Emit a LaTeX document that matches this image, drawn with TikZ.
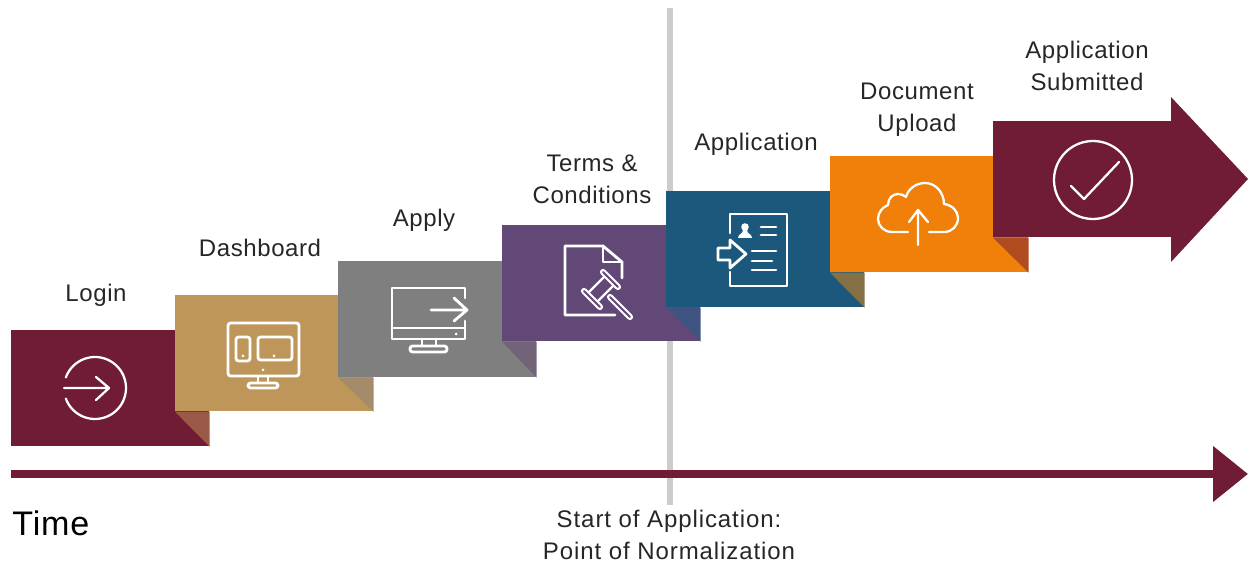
\documentclass[tikz,border=0pt]{standalone}
\usepackage{fontspec}
\setmainfont{Liberation Sans}[LetterSpace=2.5]
\usetikzlibrary{arrows.meta}
\definecolor{stepmaroon}{HTML}{701C35}
\definecolor{steptan}{HTML}{BF9659}
\definecolor{stepgray}{HTML}{7F7F7F}
\definecolor{steppurple}{HTML}{614876}
\definecolor{stepblue}{HTML}{1C587C}
\definecolor{steporange}{HTML}{F08009}
\definecolor{foldlogin}{HTML}{9A5A47}
\definecolor{folddash}{HTML}{A48B69}
\definecolor{foldapply}{HTML}{726379}
\definecolor{foldterms}{HTML}{3F5480}
\definecolor{foldappl}{HTML}{867046}
\definecolor{folddocu}{HTML}{AF4C1F}
\definecolor{inktext}{HTML}{262626}
\tikzset{
  stepbox/.style={minimum width=3.96cm,minimum height=2.32cm,inner sep=0pt,anchor=north west},
  steplabel/.style={text=inktext,align=center,font=\fontsize{13.66}{18.2}\selectfont},
  icon/.style={draw=white,line width=1.6pt,line cap=round,line join=round},
  thinicon/.style={icon,line width=1.3pt},
  iconfill/.style={fill=white,draw=none},
  gavel/.style={icon,line width=1.2pt,double=steppurple,double distance=1.1pt}
}
\begin{document}
\begin{tikzpicture}[x=0.02cm,y=-0.02cm]
\useasboundingbox (0,0) rectangle (1248,563);

\coordinate (normtop) at (670,8);
\coordinate (normend) at (670,505);
\draw[line width=3.4pt,draw=black!20] (normtop) -- (normend);

\node[stepbox,fill=stepmaroon] (login) at (11,330) {};
\node[stepbox,fill=steptan] (dash) at (175,295) {};
\fill[foldlogin] (dash.south west) -- (login.south east) -- (dash.south west -| login.south east) -- cycle;
\node[stepbox,fill=stepgray] (apply) at (338,261) {};
\fill[folddash] (apply.south west) -- (dash.south east) -- (apply.south west -| dash.south east) -- cycle;
\node[stepbox,fill=steppurple] (terms) at (502,225) {};
\fill[foldapply] (terms.south west) -- (apply.south east) -- (terms.south west -| apply.south east) -- cycle;
\node[stepbox,fill=stepblue] (appl) at (666,191) {};
\fill[foldterms] (appl.south west) -- (terms.south east) -- (appl.south west -| terms.south east) -- cycle;
\node[stepbox,fill=steporange] (docu) at (830,156) {};
\fill[foldappl] (docu.south west) -- (appl.south east) -- (docu.south west -| appl.south east) -- cycle;
\node[stepbox,fill=stepmaroon,minimum width=3.6cm] (subm) at (993,121) {};
\fill[folddocu] (subm.south west) -- (docu.south east) -- (subm.south west -| docu.south east) -- cycle;
\fill[stepmaroon] (1171,97) -- (1248,179) -- (1171,262) -- cycle;

\node[steplabel] (loginlabel) at (96,295) {Login};
\node[steplabel] (dashlabel) at (260,248) {Dashboard};
\node[steplabel] (applylabel) at (424,220) {Apply};
\node[steplabel] (termslabel) at (592,179) {Terms \&\\Conditions};
\node[steplabel] (appllabel) at (756,144) {Application};
\node[steplabel] (doculabel) at (917,110) {Document\\Upload};
\node[steplabel] (submlabel) at (1087,66) {Application\\Submitted};
\node[steplabel,font=\fontsize{13.66}{18.2}\selectfont\addfontfeature{LetterSpace=3.8}] (normlabel) at (669,535) {Start of Application:\\Point of Normalization};
\node[text=black,font=\fontsize{19.4}{22}\selectfont,anchor=west,inner sep=0pt] (timelabel) at (12,523) {Time};

\coordinate (timestart) at (11,474);
\coordinate (timeend) at (1248,474);
\draw[stepmaroon,line width=4.6pt,-{Triangle[length=19.9pt,width=30.7pt]}] (timestart) -- (timeend);

\draw[thinicon] (95,388) ++(160:31) arc (160:-160:31);
\draw[thinicon] (64,388) -- (109,388) (96,377) -- (109,388) -- (96,400);

\draw[icon,rounded corners=1.5pt] (228,323) rectangle (299,376);
\draw[icon,rounded corners=1.5pt] (236,337) rectangle (250,361);
\draw[icon,rounded corners=1.5pt] (258,337) rectangle (292,360);
\fill[iconfill] (243,356) circle (1.5) (274,356) circle (1.5) (263,370) circle (1.5);
\draw[icon] (258,376) -- (258,383) (268,376) -- (268,383);
\draw[icon,rounded corners=1.5pt] (248,383) rectangle (278,388);

\draw[icon] (465,298) -- (465,288) -- (392,288) -- (392,339) -- (465,339) -- (465,321);
\draw[icon] (392,328) -- (465,328);
\fill[iconfill] (456,334) circle (1.5);
\draw[icon] (422,339) -- (422,346) (436,339) -- (436,346);
\draw[icon,rounded corners=1.5pt] (410,346) rectangle (447,352);
\draw[icon] (431,310) -- (467,310) (454,298) -- (467,310) -- (454,321);

\draw[icon] (622,278) -- (622,262) -- (603,246) -- (565,246) -- (565,315) -- (615,315);
\draw[icon] (603,246) -- (603,262) -- (622,262);
\draw[thinicon] (606,275) -- (587,294) (615,284) -- (596,303);
\draw[gavel] (603,272) -- (618,287);
\draw[gavel] (584,291) -- (600,307);
\draw[gavel] (610,297) -- (630,317);

\draw[icon] (730,233) -- (730,214) -- (787,214) -- (787,286) -- (730,286) -- (730,272);
\fill[iconfill] (745,227) circle (3.8);
\fill[iconfill] (738,238) .. controls (738,234) and (743,234) .. (743,230) -- (747,230) .. controls (747,234) and (752,234) .. (752,238) -- cycle;
\draw[icon] (761,227) -- (776,227) (761,235) -- (776,235);
\draw[icon] (752,251) -- (776,251) (752,261) -- (772,261) (752,270) -- (776,270);
\draw[icon] (718,248) -- (730,248) -- (730,240) -- (746,254) -- (730,268) -- (730,260) -- (718,260) -- cycle;

\draw[thinicon] (908,232) -- (892,232) .. controls (884,232) and (878,226) .. (878,219) .. controls (878,212) and (883,207) .. (888,205) .. controls (888,198) and (893,194) .. (898,194) .. controls (901,194) and (904,195) .. (906,197) .. controls (908,189) and (916,183) .. (925,183) .. controls (936,183) and (944,193) .. (944,204) .. controls (952,205) and (958,211) .. (958,218) .. controls (958,226) and (952,232) .. (944,232) -- (929,232);
\draw[thinicon] (918,245) -- (918,210) (909,222) -- (918,210) -- (928,222);

\draw[thinicon] (1093,180) circle (39);
\draw[thinicon] (1071,186) -- (1084,199) -- (1119,162);
\end{tikzpicture}
\end{document}
